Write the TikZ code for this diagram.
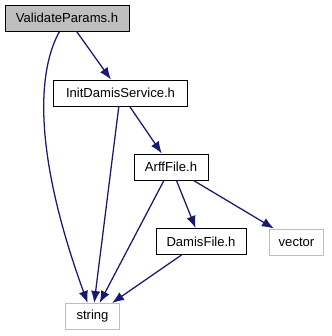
\documentclass[tikz,border=0pt]{standalone}
\usepackage{fontspec}
\setmainfont{Liberation Sans}
\usetikzlibrary{
    arrows.meta,
    positioning
}

\definecolor{edgeblue}{HTML}{191970}
\definecolor{boxgray}{HTML}{BFBFBF}

\begin{document}
\begin{tikzpicture}[
        x=0.75pt,
        y=-0.75pt,
        font=\fontsize{9.8}{12}\selectfont,
        file/.style={
            rectangle,
            draw=black,
            line width=0.75pt,
            fill=white,
            align=center,
            inner sep=0pt,
            minimum height=19.5pt
        },
        current/.style={
            file,
            fill=boxgray
        },
        system/.style={
            file,
            draw=boxgray
        },
        edge/.style={
            -{Latex[length=9pt,width=7pt]},
            draw=edgeblue,
            line width=0.95pt
        }
    ]

    \useasboundingbox (0,0) rectangle (332,336);

    \node[current, minimum width=93pt] (validate) at (67,18)
        {ValidateParams.h};

    \node[file, minimum width=100pt] (initdamis) at (120.5,93)
        {InitDamisService.h};

    \node[file, minimum width=55.5pt] (arff) at (171,167)
        {ArffFile.h};

    \node[file, minimum width=67.5pt] (damis) at (201,241.5)
        {DamisFile.h};

    \node[system, minimum width=40pt] (vector) at (296.5,242)
        {vector};

    \node[system, minimum width=41pt] (string) at (92.5,316.5)
        {string};

    \draw[edge] (validate) .. controls (38,70) and (32,150) .. (string);
    \draw[edge] (validate) -- (initdamis);
    \draw[edge] (initdamis) -- (string);
    \draw[edge] (initdamis) -- (arff);
    \draw[edge] (arff) -- (string);
    \draw[edge] (arff) -- (damis);
    \draw[edge] (arff) -- (vector);
    \draw[edge] (damis) -- (string);

\end{tikzpicture}
\end{document}
